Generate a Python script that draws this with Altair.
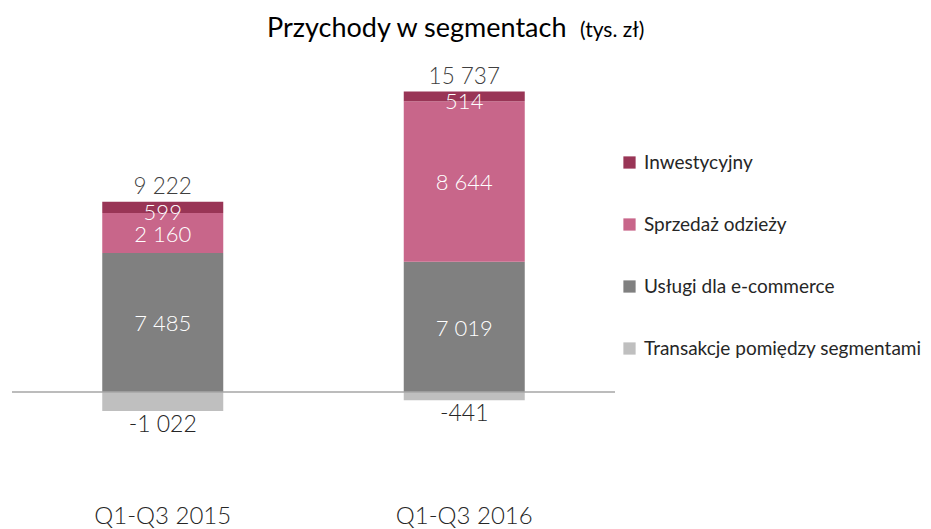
import altair as alt
import pandas as pd

periods = ["Q1-Q3 2015", "Q1-Q3 2016"]
segments = ["Inwestycyjny", "Sprzedaż odzieży", "Usługi dla e-commerce", "Transakcje pomiędzy segmentami"]
inwestycyjny = [599, 514]
sprzedaz = [2160, 8644]
uslugi = [7485, 7019]
transakcje = [-1022, -441]
totals = [9222, 15737]
colors = ["#993556", "#C8668A", "#808080", "#BFBFBF"]

stack_order = {"Usługi dla e-commerce": 1, "Sprzedaż odzieży": 2, "Inwestycyjny": 3, "Transakcje pomiędzy segmentami": 4}
series = {"Inwestycyjny": inwestycyjny, "Sprzedaż odzieży": sprzedaz,
          "Usługi dla e-commerce": uslugi, "Transakcje pomiędzy segmentami": transakcje}

def fmt(v):
    return f"{v:,}".replace(",", " ")

rows = []
for i, p in enumerate(periods):
    pos = 0
    neg = 0
    for seg in ["Usługi dla e-commerce", "Sprzedaż odzieży", "Inwestycyjny", "Transakcje pomiędzy segmentami"]:
        v = series[seg][i]
        if v >= 0:
            y0, y1 = pos, pos + v
            pos = y1
        else:
            y0, y1 = neg, neg + v
            neg = y1
        rows.append({"period": p, "segment": seg, "value": v, "y0": y0, "y1": y1,
                     "mid": (y0 + y1) / 2, "label": fmt(v), "order": stack_order[seg]})
df = pd.DataFrame(rows)

tot_rows = []
for i, p in enumerate(periods):
    top = inwestycyjny[i] + sprzedaz[i] + uslugi[i]
    tot_rows.append({"period": p, "top": top, "label": fmt(totals[i]),
                     "neg": transakcje[i], "neglabel": fmt(transakcje[i])})
tdf = pd.DataFrame(tot_rows)

FONT = "Lato"
ydom = [-5816, 17878]
xenc = alt.X("period:N", sort=periods, title=None,
             scale=alt.Scale(paddingInner=0, paddingOuter=0),
             axis=alt.Axis(domain=False, ticks=False, labelAngle=0, labelFontSize=24,
                           labelFontWeight=300,
                           labelColor="#262626", labelFont=FONT, labelPadding=4, labelBaseline="top"))
yscale = alt.Scale(domain=ydom, nice=False, zero=False)

bars = alt.Chart(df).mark_bar(size=121).encode(
    x=xenc,
    y=alt.Y("y0:Q", scale=yscale, axis=None),
    y2="y1:Q",
    color=alt.Color("segment:N", sort=segments,
                    scale=alt.Scale(domain=segments, range=colors),
                    legend=alt.Legend(title=None, orient="none", legendX=608, legendY=93,
                                      symbolType="square", symbolSize=150, symbolStrokeWidth=0,
                                      labelFontSize=19, labelFont=FONT, labelColor="#262626",
                                      rowPadding=42, labelOffset=5, labelLimit=400)),
)

big = df[(df["value"] > 0) & (df["segment"] != "Inwestycyjny")]
small = df[df["segment"] == "Inwestycyjny"]

inner = alt.Chart(big).mark_text(
    color="white", fontSize=22, font=FONT, fontWeight=300, baseline="middle", dy=2
).encode(x=alt.X("period:N", sort=periods), y=alt.Y("mid:Q", scale=yscale), text="label:N")

inner_small = alt.Chart(small).mark_text(
    color="white", fontSize=22, font=FONT, fontWeight=300, baseline="middle", dy=6
).encode(x=alt.X("period:N", sort=periods), y=alt.Y("mid:Q", scale=yscale), text="label:N")

toplab = alt.Chart(tdf).mark_text(
    color="#404040", fontSize=22.5, font=FONT, fontWeight=300, baseline="bottom", dy=-3
).encode(x=alt.X("period:N", sort=periods), y=alt.Y("top:Q", scale=yscale), text="label:N")

neglab = alt.Chart(tdf).mark_text(
    color="#262626", fontSize=23, font=FONT, fontWeight=300, baseline="top", dy=3
).encode(x=alt.X("period:N", sort=periods), y=alt.Y("neg:Q", scale=yscale), text="neglabel:N")

zero = alt.Chart(pd.DataFrame({"z": [0]})).mark_rule(color="#A6A6A6", strokeWidth=1.5).encode(
    y=alt.Y("z:Q", scale=yscale), x=alt.value(0), x2=alt.value(603))

t1 = alt.Chart(pd.DataFrame({"t": ["Przychody w segmentach"]})).mark_text(
    fontSize=27, font=FONT, color="#000000", align="left", baseline="alphabetic"
).encode(x=alt.value(255), y=alt.value(-23), text="t:N")
t2 = alt.Chart(pd.DataFrame({"t": ["(tys. zł)"]})).mark_text(
    fontSize=21, font=FONT, color="#000000", align="left", baseline="alphabetic"
).encode(x=alt.value(568), y=alt.value(-23), text="t:N")

chart = alt.layer(bars, zero, inner, inner_small, toplab, neglab, t1, t2).properties(
    width=603, height=440,
    autosize=alt.AutoSizeParams(type="none"),
    padding={"left": 4, "top": 52, "right": 308, "bottom": 28},
).configure_view(stroke=None).resolve_scale(x="shared", y="shared")

chart.save("out.html", embed_options={"renderer": "svg", "actions": False})
